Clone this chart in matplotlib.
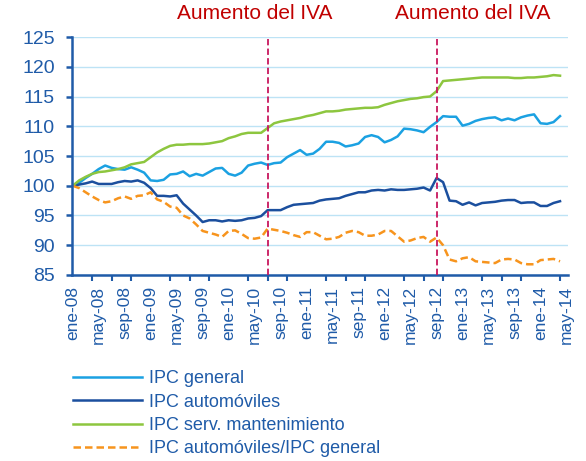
import matplotlib
matplotlib.use('Agg')
import matplotlib.pyplot as plt
import matplotlib.transforms as mtransforms
from matplotlib.ticker import MultipleLocator
import numpy as np

plt.rcParams['font.family'] = ['Liberation Sans', 'DejaVu Sans']

# monthly indices, ene-08 = 100 (ene-08 .. abr-14)
ipc_general = [100.0, 100.5, 101.3, 102.0, 102.8, 103.4, 103.0, 102.8, 102.7, 103.1,
               102.7, 102.2, 100.9, 100.8, 101.0, 101.9, 102.0, 102.4, 101.6, 102.0,
               101.7, 102.3, 102.9, 103.0, 102.0, 101.7, 102.2, 103.4, 103.7, 103.9,
               103.5, 103.8, 103.9, 104.8, 105.4, 106.0, 105.2, 105.4, 106.2, 107.4,
               107.4, 107.2, 106.6, 106.8, 107.1, 108.2, 108.5, 108.2, 107.3, 107.7,
               108.3, 109.6, 109.5, 109.3, 109.0, 109.9, 110.7, 111.7, 111.6, 111.6,
               110.1, 110.4, 110.9, 111.2, 111.4, 111.5, 111.0, 111.3, 111.0, 111.5,
               111.8, 112.0, 110.5, 110.4, 110.7, 111.7]

ipc_automoviles = [100.0, 100.2, 100.4, 100.7, 100.3, 100.3, 100.3, 100.6, 100.8, 100.7,
                   100.9, 100.5, 99.6, 98.3, 98.3, 98.2, 98.4, 97.0, 96.0, 95.0,
                   93.9, 94.2, 94.2, 94.0, 94.2, 94.1, 94.2, 94.5, 94.6, 94.9,
                   95.9, 95.9, 95.9, 96.4, 96.8, 96.9, 97.0, 97.1, 97.5, 97.7,
                   97.8, 97.9, 98.3, 98.6, 98.9, 98.9, 99.2, 99.3, 99.2, 99.4,
                   99.3, 99.3, 99.4, 99.5, 99.7, 99.2, 101.3, 100.6, 97.5, 97.4,
                   96.8, 97.2, 96.7, 97.1, 97.2, 97.3, 97.5, 97.6, 97.6, 97.1,
                   97.2, 97.2, 96.6, 96.6, 97.1, 97.4]

ipc_serv_mant = [100.0, 100.9, 101.5, 102.0, 102.3, 102.4, 102.6, 102.8, 103.1, 103.6,
                 103.8, 104.0, 104.8, 105.6, 106.2, 106.7, 106.9, 106.9, 107.0, 107.0,
                 107.0, 107.1, 107.3, 107.5, 108.0, 108.3, 108.7, 108.9, 108.9, 108.9,
                 109.7, 110.5, 110.8, 111.0, 111.2, 111.4, 111.7, 111.9, 112.2, 112.5,
                 112.5, 112.6, 112.8, 112.9, 113.0, 113.1, 113.1, 113.2, 113.6, 113.9,
                 114.2, 114.4, 114.6, 114.7, 114.9, 115.0, 115.9, 117.6, 117.7, 117.8,
                 117.9, 118.0, 118.1, 118.2, 118.2, 118.2, 118.2, 118.2, 118.1, 118.1,
                 118.2, 118.2, 118.3, 118.4, 118.6, 118.5]

ratio_auto_general = [100.0, 99.6, 98.9, 98.2, 97.6, 97.2, 97.4, 97.9, 98.2, 97.8,
                      98.3, 98.4, 98.9, 97.7, 97.3, 96.5, 96.3, 95.0, 94.5, 93.5,
                      92.4, 92.1, 91.8, 91.4, 92.4, 92.5, 91.9, 91.2, 91.1, 91.3,
                      92.8, 92.6, 92.4, 92.1, 91.7, 91.4, 92.2, 92.2, 91.6, 91.0,
                      91.1, 91.4, 92.1, 92.4, 92.2, 91.6, 91.6, 91.8, 92.4, 92.4,
                      91.5, 90.6, 90.8, 91.2, 91.4, 90.6, 91.3, 90.0, 87.6, 87.3,
                      87.8, 88.0, 87.3, 87.2, 87.1, 87.0, 87.6, 87.7, 87.6, 87.0,
                      86.8, 86.8, 87.5, 87.6, 87.7, 87.3]

tick_labels = ['ene-08', 'may-08', 'sep-08', 'ene-09', 'may-09', 'sep-09', 'ene-10',
               'may-10', 'sep-10', 'ene-11', 'may-11', 'sep-11', 'ene-12', 'may-12',
               'sep-12', 'ene-13', 'may-13', 'sep-13', 'ene-14', 'may-14']

iva_months = [30, 56]          # jul-10, sep-12
iva_label = 'Aumento del IVA'

axis_blue = '#1F5BA8'
c_general = '#1BA1E2'
c_auto = '#1B4F9E'
c_serv = '#8DC63F'
c_ratio = '#F7941D'

fig = plt.figure(figsize=(5.86, 4.61), dpi=100)
ax = fig.add_axes([0.1229, 0.4035, 0.8461, 0.5162])

x = np.arange(len(ipc_general))
ax.plot(x, ipc_general, color=c_general, lw=1.8, label='IPC general')
ax.plot(x, ipc_automoviles, color=c_auto, lw=1.8, label='IPC automóviles')
ax.plot(x, ipc_serv_mant, color=c_serv, lw=1.8, label='IPC serv. mantenimiento')
ax.plot(x, ratio_auto_general, color=c_ratio, lw=1.8, dashes=(3.0, 1.6),
        label='IPC automóviles/IPC general')

# IVA markers
trans = mtransforms.blended_transform_factory(ax.transData, ax.transAxes)
for m, tx in zip(iva_months, [28.0, 61.5]):
    ax.axvline(m, color='#C8175E', lw=1.3, dashes=(3.5, 1.8), zorder=3)
    ax.text(tx, 1.097, iva_label, transform=trans, ha='center', va='center',
            color='#C00000', fontsize=15)

ax.set_ylim(85, 125)
ax.set_xlim(-0.1, 76.2)
ax.yaxis.set_major_locator(MultipleLocator(5))
ax.grid(axis='y', color='#BDE3F5', lw=1.0)
ax.set_axisbelow(True)

for s in ['top', 'right']:
    ax.spines[s].set_visible(False)
for s in ['left', 'bottom']:
    ax.spines[s].set_color(axis_blue)
    ax.spines[s].set_linewidth(1.8)

ax.set_xticks(np.arange(0, 4 * len(tick_labels), 4))
ax.set_xticklabels(tick_labels, rotation=90)
ax.xaxis.set_minor_locator(MultipleLocator(3))
ax.tick_params(axis='x', which='major', length=0, pad=8, labelsize=12.5, labelcolor=axis_blue)
ax.tick_params(axis='x', which='minor', length=4.5, width=1.5, color=axis_blue, direction='out')
ax.tick_params(axis='y', length=4.5, width=1.8, color=axis_blue, pad=8,
               labelsize=14, labelcolor=axis_blue)

leg = fig.legend(loc='upper left', bbox_to_anchor=(0.125, 0.197), frameon=False,
                 fontsize=13, handlelength=3.8, handletextpad=0.4, labelspacing=0.35,
                 borderpad=0, borderaxespad=0)
for t in leg.get_texts():
    t.set_color(axis_blue)

fig.savefig('out.png', dpi=100)
